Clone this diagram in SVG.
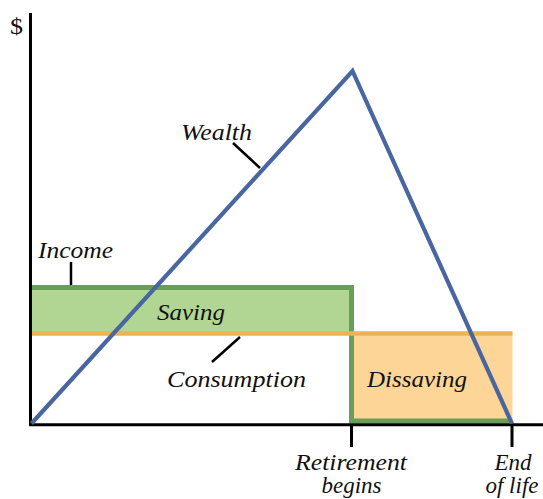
<svg xmlns="http://www.w3.org/2000/svg" width="543" height="499" viewBox="0 0 543 499">
<style>
.lbl{font-family:"Liberation Serif","Times New Roman",serif;font-style:italic;font-size:23px;fill:#111}
.ax{stroke:#000;stroke-width:3;fill:none}
.ld{stroke:#000;stroke-width:2.5;fill:none}
</style>
<rect width="543" height="499" fill="#fff"/>
<g id="regions">
<rect id="saving-area" x="30" y="287.5" width="321.5" height="46" fill="#b1d592"/>
<rect id="dissaving-area" x="351.5" y="333.5" width="161" height="87.5" fill="#fdd596"/>
</g>
<g id="income-line">
<polyline points="30,287.5 351.5,287.5 351.5,421 512,421" fill="none" stroke="#6a9e56" stroke-width="5"/>
</g>
<g id="consumption-line">
<line x1="30" y1="333.5" x2="512.5" y2="333.5" stroke="#e8b454" stroke-width="4.5"/>
</g>
<g id="axes">
<line class="ax" x1="30.5" y1="13" x2="30.5" y2="426"/>
<line class="ax" x1="29" y1="424.7" x2="543" y2="424.7"/>
<line class="ax" x1="351.5" y1="424" x2="351.5" y2="447"/>
<line class="ax" x1="512" y1="424" x2="512" y2="447"/>
</g>
<g id="wealth-line">
<polyline points="31.5,423.5 352.5,71 512,423.5" fill="none" stroke="#4a66a0" stroke-width="4.2" stroke-linejoin="miter"/>
</g>
<g id="connectors">
<line class="ld" x1="71" y1="262" x2="71" y2="285"/>
<line class="ld" x1="233" y1="143" x2="260" y2="168"/>
<line class="ld" x1="240" y1="337" x2="212" y2="362"/>
</g>
<g id="labels">
<text class="lbl" x="10" y="34" style="font-style:normal" textLength="13" lengthAdjust="spacingAndGlyphs">$</text>
<text id="wealth" class="lbl" x="181" y="140" textLength="71" lengthAdjust="spacingAndGlyphs">Wealth</text>
<text id="income" class="lbl" x="38" y="258" textLength="75" lengthAdjust="spacingAndGlyphs">Income</text>
<text id="saving" class="lbl" x="157" y="320" textLength="68" lengthAdjust="spacingAndGlyphs">Saving</text>
<text id="consumption" class="lbl" x="167" y="387" textLength="139" lengthAdjust="spacingAndGlyphs">Consumption</text>
<text id="dissaving" class="lbl" x="367" y="387" textLength="100" lengthAdjust="spacingAndGlyphs">Dissaving</text>
<text id="retirement" class="lbl" x="295" y="470" textLength="112" lengthAdjust="spacingAndGlyphs">Retirement</text>
<text class="lbl" x="351.5" y="493" text-anchor="middle">begins</text>
<text id="end" class="lbl" x="513" y="470" text-anchor="middle">End</text>
<text class="lbl" x="512" y="493" text-anchor="middle">of life</text>
</g>
</svg>
